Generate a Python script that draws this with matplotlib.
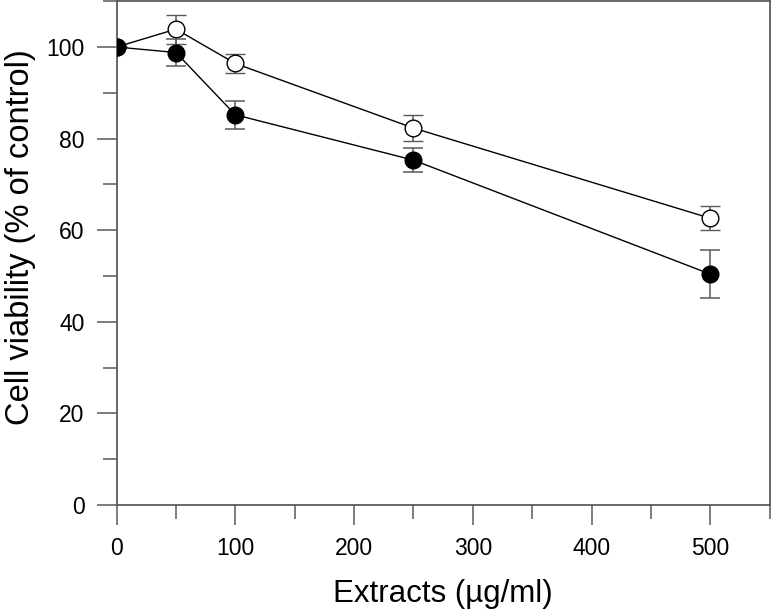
import matplotlib

matplotlib.use('Agg')
import matplotlib.pyplot as plt
from matplotlib.ticker import MultipleLocator

# concentration of extract (ug/ml)
dose = [0, 50, 100, 250, 500]

# open circles
open_mean = [100.0, 103.9, 96.4, 82.3, 62.6]
open_err = [0.0, 3.2, 2.1, 2.8, 2.65]

# filled circles
filled_mean = [100.0, 98.8, 85.2, 75.3, 50.4]
filled_err = [0.0, 2.9, 3.0, 2.6, 5.2]

AXIS_GREY = '#5a5a5a'

plt.rcParams['font.family'] = ['Liberation Sans', 'DejaVu Sans']

fig = plt.figure(figsize=(7.72, 6.12), dpi=100)
ax = fig.add_axes([0.151, 0.175, 0.846, 0.823])

common = dict(color='black', lw=1.0, ecolor=AXIS_GREY, elinewidth=1.1,
              capsize=7.5, capthick=1.1, markersize=12)
ax.errorbar(dose, open_mean, yerr=open_err, fmt='-o', mfc='white', mec='black',
            mew=1.0, zorder=3, **common)
ax.errorbar(dose, filled_mean, yerr=filled_err, fmt='-o', mfc='black', mec='black',
            zorder=4, **common)

ax.set_xlim(0, 550)
ax.set_ylim(0, 110)
ax.xaxis.set_major_locator(MultipleLocator(100))
ax.xaxis.set_minor_locator(MultipleLocator(50))
ax.yaxis.set_major_locator(MultipleLocator(20))
ax.yaxis.set_minor_locator(MultipleLocator(10))

for spine in ax.spines.values():
    spine.set_color(AXIS_GREY)
    spine.set_linewidth(1.3)
    spine.set_clip_on(False)

ax.tick_params(which='both', direction='out', color=AXIS_GREY, width=1.1,
               top=False, right=False, labelsize=16.5)
ax.tick_params(which='major', length=14.5, pad=8.5)
ax.tick_params(which='minor', length=10)

ax.set_xlabel('Extracts (µg/ml)', fontsize=22.5, labelpad=14)
ax.set_ylabel('Cell viability (% of control)', fontsize=23.5, labelpad=10)
ax.yaxis.set_label_coords(-0.124, 0.532)

fig.savefig('out.png', dpi=100)
